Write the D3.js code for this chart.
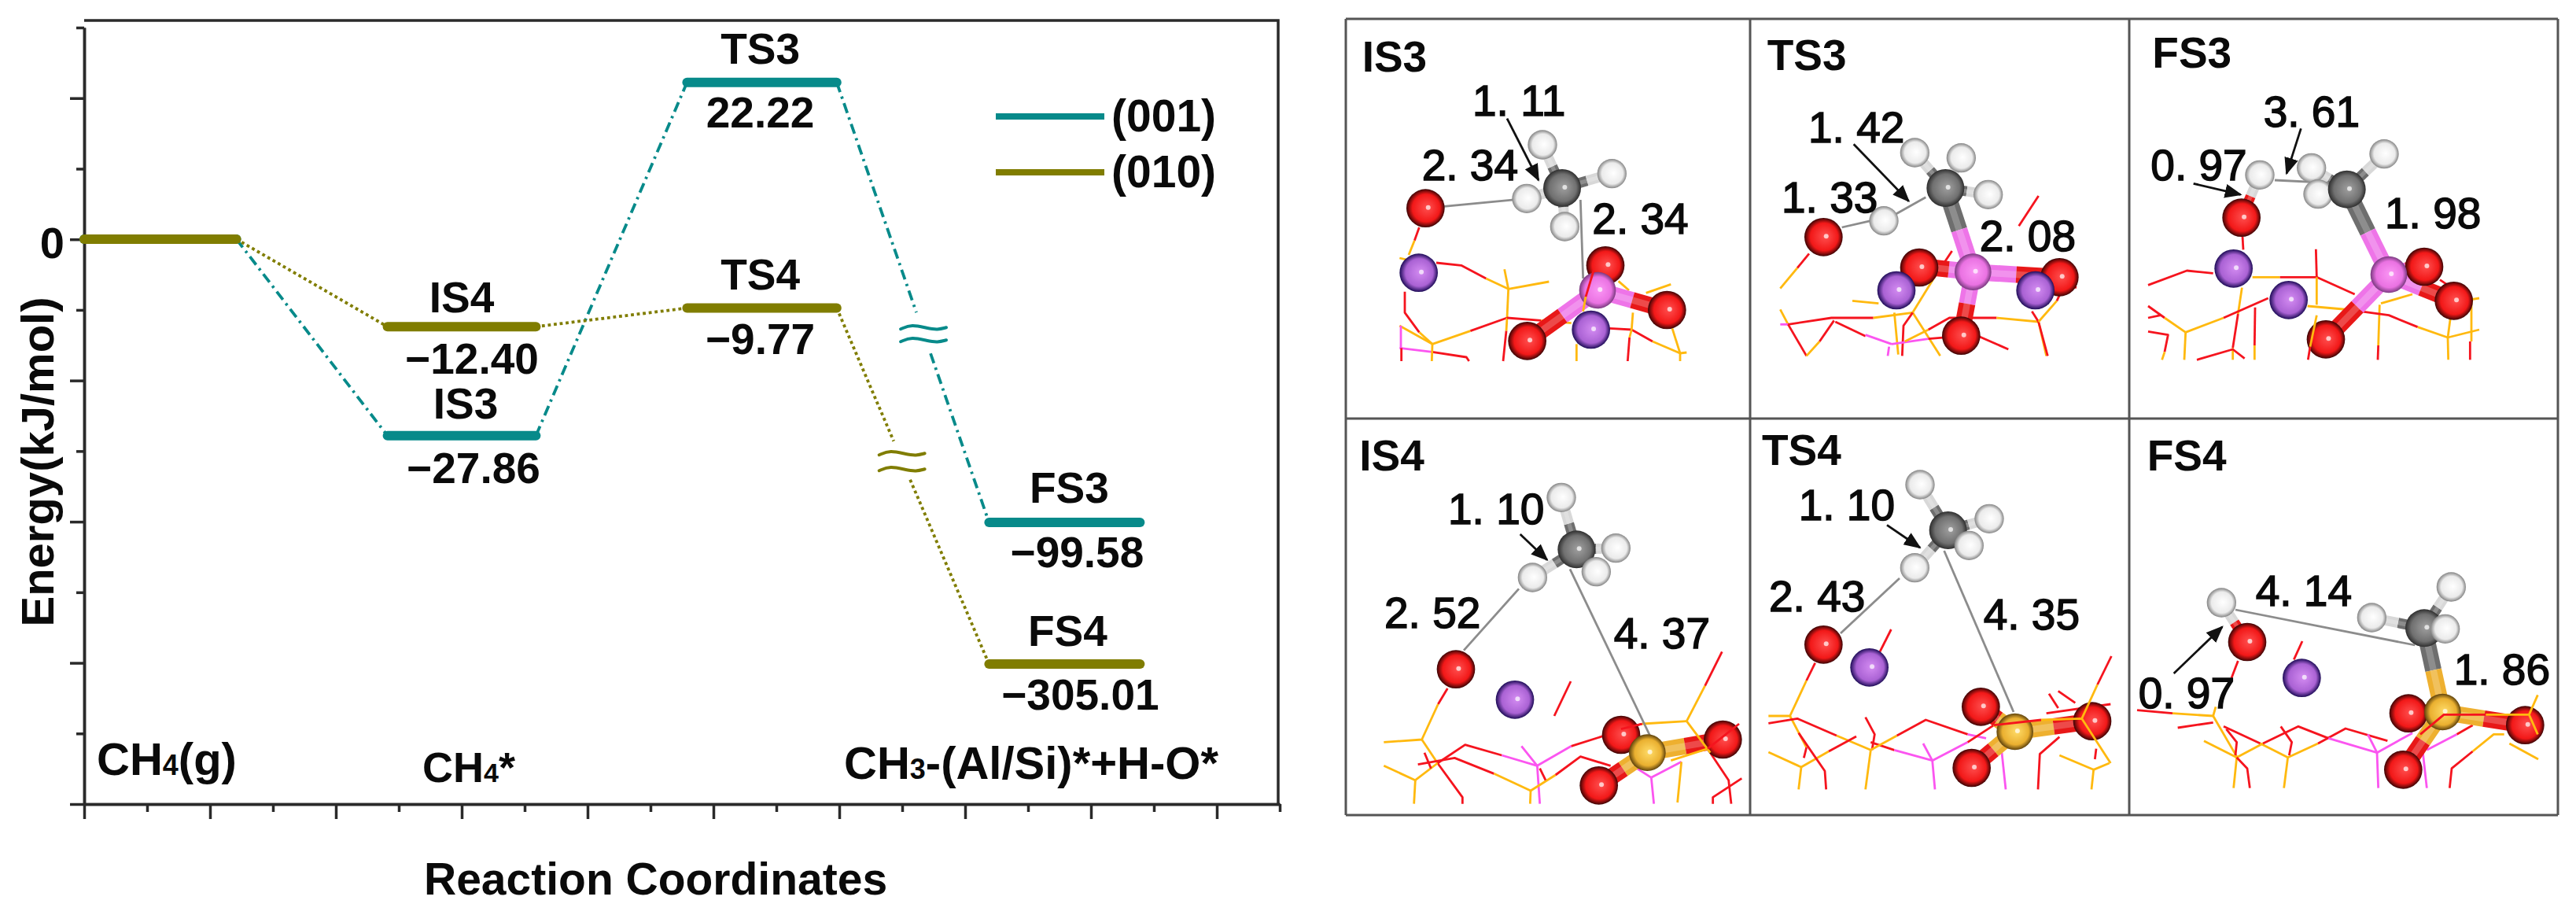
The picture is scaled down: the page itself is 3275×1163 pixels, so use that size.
<!DOCTYPE html>
<html>
<head>
<meta charset="utf-8">
<script src="https://cdn.jsdelivr.net/npm/d3@7/dist/d3.min.js"></script>
<style>
  html, body { margin: 0; padding: 0; background: #fff; }
  svg { display: block; }
  text { font-family: "Liberation Sans", Arial, sans-serif; fill: #0a0a0a; }
  .bold { font-weight: bold; }
</style>
</head>
<body>
<svg id="fig" width="3275" height="1163"></svg>
<script>
// energy profile, kJ/mol. first entry is the CH4(g) reference level
const stateNames001 = ['', 'IS3', 'TS3', 'FS3'];
const stateNames010 = ['', 'IS4', 'TS4', 'FS4'];
const energies001 = [0, -27.86, 22.22, -99.58];
const energies010 = [0, -12.40, -9.77, -305.01];
// start and end of each level on the reaction coordinate axis
const coordStart = [0, 2.41, 4.79, 7.19];
const coordEnd = [1.21, 3.59, 5.98, 8.39];
// part of the last connector left out for the axis break
const breakGap001 = [0.523, 0.616];
const breakGap010 = [0.374, 0.482];
const legendLabels = ['(001)', '(010)'];
const majorEnergyTicks = [-80, -60, -40, -20, 0, 20];
const minorEnergyTicks = [-70, -50, -30, -10, 10, 30];
const majorCoordTicks = [0, 1, 2, 3, 4, 5, 6, 7, 8, 9];
const minorCoordTicks = [0.5, 1.5, 2.5, 3.5, 4.5, 5.5, 6.5, 7.5, 8.5, 9.5];

// structures in crop units (3 per pixel of the panel)
const is3Atoms = [['O',304,722],['K',278,968],['H',750,480],['O',990,940],['C',825,645],['H',1015,590],['H',690,685],['H',835,792],['Al',960,1035],['O',1225,1110],['O',692,1228],['K',935,1185]];
const is3Sticks = [['C',825,645,'H',750,480],['C',825,645,'H',1015,590],['C',825,645,'H',690,685],['C',825,645,'H',835,792],['Al',960,1035,'O',990,940],['Al',960,1035,'O',1225,1110],['Al',960,1035,'O',692,1228]];
const is3Dists = [[304,722,690,685],[895,690,905,990]];
const is3Arrows = [[615,380,735,615]];
const is3Wires = [
  ['O',280,795,262,845],['Si',262,845,240,900],['Si',205,912,240,920],
  ['O',345,930,440,940,535,990],['Si',535,990,620,1030],['Si',605,955,620,1030,775,1002],['Si',620,1030,615,1140],
  ['O',615,1140,475,1190],['Si',475,1190,330,1240],['Si',330,1240,205,1170],['O',225,1040,225,1120,280,1195],['Si',280,1195,330,1240],
  ['Al',210,1170,210,1255],['Al',205,1255,330,1270],['O',330,1270,460,1290,470,1305],['O',212,1255,212,1305],['Si',330,1240,328,1305],
  ['Si',615,1140,612,1190],['O',612,1190,600,1305],['O',615,1140,745,1150],['Si',745,1150,860,1160],['Si',880,1240,880,1305],
  ['O',1005,1180,1090,1185,1170,1230],['Si',1170,1230,1275,1275,1300,1272],['Si',1275,1275,1275,1305],['Si',1275,1275,1245,1180],
  ['Si',1090,1185,1095,1120],['Si',1090,1185,1082,1215],['O',1082,1215,1075,1305],['Si',1145,1045,1240,1012],['Si',1040,1000,1080,1035]];
const is3Over = [['O',945,960,915,1060],['Si',915,1060,905,1115]];
const is3Labels = [['1. 11',483,368],['2. 34',290,615],['2. 34',940,818]];

const ts3Atoms = [['O',280,832],['H',510,770],['H',628,510],['H',805,530],['C',745,645],['H',908,670],['O',645,948],['O',1180,985],['Al',850,965],['K',558,1035],['K',1088,1035],['O',805,1208]];
const ts3Sticks = [['C',745,645,'H',628,510],['C',745,645,'H',805,530],['C',745,645,'H',908,670],['C',745,645,'Al',850,965],['Al',850,965,'O',665,945],['Al',850,965,'O',1180,985],['Al',850,965,'O',805,1208]];
const ts3Dists = [[350,795,460,770],[555,745,670,680]];
const ts3Arrows = [[395,478,605,695]];
const ts3Wires = [
  ['O',225,895,180,950],['Si',180,950,115,1028],['Si',115,1108,145,1165],['O',1025,790,1100,675],['Si',390,1075,490,1085],
  ['Al',115,1165,145,1165],['O',145,1165,310,1140,470,1140],['Si',470,1140,620,1120],['O',770,885,700,990],['Si',700,990,620,1120],
  ['Si',620,1120,725,1285],['Si',550,1120,565,1280],['O',620,1120,585,1170,580,1285],['O',145,1165,215,1285],['Si',215,1285,265,1230],
  ['O',265,1230,320,1150],['O',325,1155,440,1210],['Al',440,1205,540,1240],['Al',540,1240,680,1220],['O',680,1220,860,1205,985,1260],
  ['Si',590,1230,680,1185],['O',680,1185,760,1140,940,1140],['Si',940,1140,1100,1155],['Si',1100,1155,1130,1285],['O',1100,1155,1135,1285],
  ['O',1075,1115,1100,1155],['Si',1100,1155,1170,1075],['O',1170,1075,1200,1010,1245,1025],['Al',530,1250,525,1285]];
const ts3Over = [];
const ts3Labels = [['1. 42',222,470],['1. 33',120,738],['2. 08',875,885]];

const fs3Atoms = [['O',428,758],['H',498,595],['H',695,568],['H',720,668],['H',972,515],['C',830,650],['K',398,952],['K',608,1072],['O',1125,945],['Al',990,975],['O',1238,1075],['O',750,1222]];
const fs3Sticks = [['C',830,650,'H',972,515],['C',830,650,'H',695,568],['C',830,650,'Al',990,975],['H',498,595,'O',428,758],['Al',990,975,'O',1125,945],['Al',990,975,'O',1238,1075],['Al',990,975,'O',750,1222]];
const fs3Dists = [[555,615,760,625]];
const fs3Arrows = [[655,418,600,590],[245,628,425,670]];
const fs3Wires = [
  ['O',72,1015,220,960,320,970],['O',432,830,435,880],['Si',470,985,575,985],['O',575,985,715,985,860,1050],['O',712,878,715,985],
  ['Si',715,985,715,1090],['Si',680,1095,850,1110],['Si',430,1025,415,1125],['O',415,1125,395,1255],['Si',395,1255,395,1300],
  ['O',72,1095,135,1140],['Si',135,1140,215,1195],['Si',215,1195,360,1140],['O',360,1140,530,1065],['Si',215,1195,210,1300],
  ['O',72,1140,120,1130],['O',72,1192,148,1205,135,1270],['Si',135,1270,125,1300],['O',258,1300,395,1260,440,1295],['O',480,1100,478,1245],
  ['Si',478,1245,478,1300],['Si',955,1090,950,1245],['O',950,1245,948,1300],['Si',960,1085,1080,1050],['O',880,1115,990,1130,1100,1175],
  ['Si',1100,1175,1215,1215,1335,1185],['Si',1215,1215,1217,1300],['Si',1305,1070,1305,1230],['O',1300,1230,1300,1300],['Si',1225,1140,1215,1215],
  ['Si',1305,1070,1335,1065],['O',1185,995,1215,1015]];
const fs3Over = [['Si',715,1130,690,1250],['O',690,1250,682,1300]];
const fs3Labels = [['3. 61',512,410],['0. 97',82,615],['1. 98',975,798]];

const is4Atoms = [['O',420,962],['K',645,1078],['H',822,307],['H',1030,500],['C',880,505],['H',955,590],['H',712,612],['O',1050,1212],['O',1438,1230],['Si',1150,1280],['O',965,1405]];
const is4Sticks = [['C',880,505,'H',822,307],['C',880,505,'H',1030,500],['C',880,505,'H',955,590],['C',880,505,'H',712,612],['Si',1150,1280,'O',1050,1212],['Si',1150,1280,'O',1438,1230],['Si',1150,1280,'O',965,1405]];
const is4Dists = [[450,890,660,655],[855,580,1160,1215]];
const is4Arrows = [[665,447,768,545]];
const is4Wires = [
  ['O',858,1008,795,1140],['O',388,1035,352,1095],['Si',352,1095,290,1230,145,1240],['Si',290,1230,350,1320],['O',350,1320,445,1450,445,1475],
  ['Si',145,1330,265,1385],['Si',265,1385,350,1320],['O',350,1320,455,1250,595,1290],['Al',595,1290,730,1330,670,1255],['Al',730,1330,860,1255],
  ['O',860,1255,1130,1170],['Si',1130,1170,1300,1160],['Si',1300,1160,1370,1025],['O',1370,1025,1435,895],['O',1390,1280,1460,1385,1470,1475],
  ['O',1400,1475,1400,1450,1510,1378],['Si',265,1385,260,1475],['O',275,1325,415,1300,565,1360],['Si',565,1360,705,1425],['Si',705,1425,703,1475],
  ['Al',730,1330,740,1475],['Si',705,1425,800,1365],['O',800,1365,895,1295,1010,1330],['O',740,1340,762,1385],['Al',1110,1340,1165,1375],
  ['Al',1165,1375,1175,1475],['Al',1165,1375,1280,1315],['Si',1280,1315,1265,1470],['O',300,1280,325,1340]];
const is4Over = [['Si',1300,1160,1390,1280],['Si',1240,1310,1380,1265],['O',1380,1265,1500,1170],['O',1130,1170,1050,1190]];
const is4Labels = [['1. 10',390,408],['2. 52',147,805],['4. 37',1022,883]];

const ts4Atoms = [['O',280,868],['K',455,955],['H',648,258],['H',912,388],['C',755,432],['H',835,490],['H',628,575],['O',880,1105],['O',1305,1160],['Si',1010,1200],['O',845,1338]];
const ts4Sticks = [['C',755,432,'H',648,258],['C',755,432,'H',912,388],['C',755,432,'H',835,490],['C',755,432,'H',628,575],['Si',1010,1200,'O',880,1105],['Si',1010,1200,'O',1305,1160],['Si',1010,1200,'O',845,1338]];
const ts4Dists = [[345,825,570,615],[740,510,1005,1125]];
const ts4Arrows = [[522,412,648,498]];
const ts4Wires = [
  ['O',495,895,538,810],['O',248,938,215,1005],['Si',215,1005,152,1140,70,1140],['Si',152,1140,215,1260],['O',70,1168,180,1150,330,1215],
  ['Si',330,1215,460,1270],['O',460,1240,550,1270],['Al',550,1270,695,1310],['Si',460,1270,440,1420],['O',440,1145,475,1210,465,1270],
  ['Si',460,1270,560,1215],['O',560,1215,670,1155,830,1210],['Al',830,1210,900,1225],['Al',660,1245,695,1310,705,1420],['Al',695,1310,830,1240],
  ['O',830,1240,930,1175],['Si',70,1278,195,1335],['Si',195,1335,185,1420],['Si',195,1335,300,1275],['O',300,1275,405,1218],
  ['O',185,1205,285,1350,290,1420],['O',205,1300,215,1260],['Si',1180,1290,1310,1345,1370,1320],['Si',1310,1345,1302,1420],
  ['O',1098,1420,1105,1285,1180,1220],['O',1140,1055,1175,1110],['O',1175,1045,1240,1090],['O',1315,1305,1320,1265],['Al',960,1280,975,1420],['O',1130,1130,1375,1095]];
const ts4Over = [['O',930,1175,1110,1155],['Si',1110,1155,1265,1150,1375,1320],['Si',1265,1150,1325,1020],['O',1325,1020,1378,912]];
const ts4Labels = [['1. 10',185,392],['2. 43',72,742],['4. 35',890,810]];

const fs4Atoms = [['H',352,708],['O',450,858],['K',658,995],['H',925,765],['H',1228,648],['C',1125,805],['H',1205,808],['O',1065,1130],['O',1510,1175],['Si',1195,1125],['O',1045,1345]];
const fs4Sticks = [['H',352,708,'O',450,858],['C',1125,805,'H',925,765],['C',1125,805,'H',1228,648],['C',1125,805,'Si',1195,1125],['Si',1195,1125,'O',1065,1130],['Si',1195,1125,'O',1510,1175],['Si',1195,1125,'O',1045,1345]];
const fs4Dists = [[405,735,1090,870]];
const fs4Arrows = [[170,978,355,800]];
const fs4Wires = [
  ['O',660,855,628,925],['O',415,930,390,995],['Si',330,1105,320,1140],['O',30,1118,165,1130],['Si',165,1130,320,1140],['O',185,1185,320,1165],
  ['Si',320,1140,410,1295],['O',360,1180,500,1245],['Si',500,1245,605,1298],['Si',285,1235,410,1298],['Si',410,1298,510,1245],['O',510,1245,645,1180,760,1225],
  ['Si',605,1298,720,1245],['O',720,1245,825,1188,985,1235],['Si',605,1298,590,1415],['Si',410,1298,398,1415],['O',370,1190,410,1240,405,1290],
  ['O',410,1298,450,1340,460,1415],['O',578,1180,620,1240,610,1290],['Al',760,1225,945,1280],['Al',910,1210,945,1280],['Al',945,1280,950,1415],
  ['Al',945,1280,1080,1205],['Al',1120,1280,1135,1415],['Al',1135,1270,1250,1210],['O',1250,1210,1310,1175],['O',1222,1415,1230,1340,1310,1275],
  ['Si',1310,1275,1390,1210,1430,1210],['Si',1450,1245,1560,1305]];
const fs4Over = [['O',1110,1210,1200,1135,1360,1135],['Si',1360,1135,1525,1135,1558,1210],['Si',1525,1135,1558,1060]];
const fs4Labels = [['4. 14',482,720],['0. 97',35,1110],['1. 86',1238,1020]];

const panelNames = ['IS3', 'TS3', 'FS3', 'IS4', 'TS4', 'FS4'];
const panelAtoms = [is3Atoms, ts3Atoms, fs3Atoms, is4Atoms, ts4Atoms, fs4Atoms];
const panelSticks = [is3Sticks, ts3Sticks, fs3Sticks, is4Sticks, ts4Sticks, fs4Sticks];
const panelDists = [is3Dists, ts3Dists, fs3Dists, is4Dists, ts4Dists, fs4Dists];
const panelArrows = [is3Arrows, ts3Arrows, fs3Arrows, is4Arrows, ts4Arrows, fs4Arrows];
const panelWires = [is3Wires, ts3Wires, fs3Wires, is4Wires, ts4Wires, fs4Wires];
const panelOver = [is3Over, ts3Over, fs3Over, is4Over, ts4Over, fs4Over];
const panelLabels = [is3Labels, ts3Labels, fs3Labels, is4Labels, ts4Labels, fs4Labels];
const panelTitlePos = [[62,200],[65,195],[88,185],[52,205],[45,182],[68,205]];

const teal = '#078a8a', olive = '#807d00', axisColor = '#2a2a2a';

const svg = d3.select('#fig');
const defs = svg.append('defs');

// left chart scales. axis runs -80..30, energies below -30 go through the break
const xCoord = d3.scaleLinear().domain([0, 9.5]).range([107, 1627]);
const yAxisScale = d3.scaleLinear().domain([-80, 30]).range([1022, 35]);
const yEnergy = d3.scaleLinear()
  .domain([30, -30, -99.58, -305.01, -508])
  .range([35, 573, 664, 844, 1022]);

const chart = svg.append('g');

function styleAxis(g) {
  g.selectAll('path, line').attr('stroke', axisColor).attr('stroke-width', 3.5);
}
chart.append('g').attr('transform', 'translate(107,0)')
  .call(d3.axisLeft(yAxisScale).tickValues(majorEnergyTicks).tickSize(18).tickSizeOuter(0)
    .tickFormat(d => d === 0 ? '0' : '').tickPadding(7))
  .call(styleAxis)
  .call(g => g.selectAll('text').attr('class', 'bold').attr('font-size', 56).attr('font-family', null).attr('dy', '0.42em'));
chart.append('g').attr('transform', 'translate(107,0)')
  .call(d3.axisLeft(yAxisScale).tickValues(minorEnergyTicks).tickSize(10).tickSizeOuter(0).tickFormat(''))
  .call(styleAxis);
chart.append('g').attr('transform', 'translate(0,1022)')
  .call(d3.axisBottom(xCoord).tickValues(majorCoordTicks).tickSize(19).tickSizeOuter(0).tickFormat(''))
  .call(styleAxis);
chart.append('g').attr('transform', 'translate(0,1022)')
  .call(d3.axisBottom(xCoord).tickValues(minorCoordTicks).tickSize(10).tickSizeOuter(0).tickFormat(''))
  .call(styleAxis);
chart.append('path')
  .attr('d', d3.line()([[xCoord(0), 26], [1625, 26], [1625, 1022]]))
  .attr('fill', 'none').attr('stroke', axisColor).attr('stroke-width', 3.5);

const lineGen = d3.line();
const squiggleShape = [[-29, 3], [-15, -3], [5, 2], [18, 4], [29, 1]];
const squiggleGen = d3.line().curve(d3.curveBasis);

function drawProfile(energies, color, dash, gap, squiggleOffset) {
  const g = chart.append('g');
  energies.forEach((e, i) => {
    if (i === 0) return;
    const a = [xCoord(coordEnd[i - 1]), yEnergy(energies[i - 1])];
    const b = [xCoord(coordStart[i]), yEnergy(e)];
    const at = t => [a[0] + (b[0] - a[0]) * t, a[1] + (b[1] - a[1]) * t];
    const pieces = i === energies.length - 1 ? [[a, at(gap[0])], [at(gap[1]), b]] : [[a, b]];
    pieces.forEach(p => g.append('path').attr('d', lineGen(p)).attr('fill', 'none')
      .attr('stroke', color).attr('stroke-width', 3.8).attr('stroke-dasharray', dash));
    if (i === energies.length - 1) {
      const c = at((gap[0] + gap[1]) / 2);
      [-squiggleOffset, squiggleOffset].forEach(dy => {
        g.append('path')
          .attr('d', squiggleGen(squiggleShape.map(s => [c[0] + s[0], c[1] + s[1] + dy])))
          .attr('fill', 'none').attr('stroke', color).attr('stroke-width', 4).attr('stroke-linecap', 'round');
      });
    }
  });
  energies.forEach((e, i) => {
    g.append('path')
      .attr('d', lineGen([[xCoord(coordStart[i]), yEnergy(e)], [xCoord(coordEnd[i]), yEnergy(e)]]))
      .attr('stroke', color).attr('stroke-width', 12).attr('stroke-linecap', 'round');
  });
}
drawProfile(energies001, teal, '13,6,3,6', breakGap001, 8);
drawProfile(energies010, olive, '3.8,3.8', breakGap010, 10);

// labels above and below the levels
const fmt = d3.format('.2f');
function levelText(names, energies, nameDx, nameDy, valueDx, valueDy) {
  names.forEach((n, i) => {
    if (!n) return;
    const cx = (xCoord(coordStart[i]) + xCoord(coordEnd[i])) / 2, y = yEnergy(energies[i]);
    chart.append('text').attr('class', 'bold').attr('font-size', 55).attr('text-anchor', 'middle')
      .attr('x', cx + nameDx[i]).attr('y', y + nameDy[i]).text(n);
    chart.append('text').attr('class', 'bold').attr('font-size', 55).attr('text-anchor', 'middle')
      .attr('x', cx + valueDx[i]).attr('y', y + valueDy[i]).text(fmt(energies[i]));
  });
}
levelText(stateNames001, energies001, [0, 5, -2, 6], [0, -22, -24, -25], [0, 15, -2, 16], [0, 60, 57, 57]);
levelText(stateNames010, energies010, [0, 0, -2, 4], [0, -18, -24, -23], [0, 13, -2, 20], [0, 60, 58, 58]);

// legend
const legendColors = [teal, olive];
legendLabels.forEach((l, i) => {
  const y = 148 + i * 71;
  chart.append('line').attr('x1', 1266).attr('x2', 1404).attr('y1', y).attr('y2', y)
    .attr('stroke', legendColors[i]).attr('stroke-width', 8);
  chart.append('text').attr('class', 'bold').attr('font-size', 57).attr('x', 1413).attr('y', y + 19).text(l);
});

// axis titles and stage names
chart.append('text').attr('class', 'bold').attr('font-size', 58)
  .attr('transform', 'translate(68,587) rotate(-90)').attr('text-anchor', 'middle').text('Energy(kJ/mol)');
chart.append('text').attr('class', 'bold').attr('font-size', 57)
  .attr('x', 539).attr('y', 1137).text('Reaction Coordinates');

function stageText(x, y, parts) {
  const t = chart.append('text').attr('class', 'bold').attr('x', x).attr('y', y);
  parts.forEach(p => t.append('tspan').attr('font-size', p[1]).text(p[0]));
}
stageText(123, 985, [['CH', 58], ['4', 36], ['(g)', 58]]);
stageText(537, 994, [['CH', 54], ['4', 34], ['*', 54]]);
stageText(1073, 990, [['CH', 58], ['3', 36], ['-(Al/Si)*+H-O*', 58]]);

// right side, gradients for the ball atoms
const atomFill = {
  O: ['#ff5050', '#f21818', '#3c0404'],
  K: ['#d48cf2', '#aa62d4', '#1e0c58'],
  H: ['#ffffff', '#ebebeb', '#858585'],
  C: ['#a0a0a0', '#707070', '#2e2e2e'],
  Al: ['#fb96f5', '#ea72e2', '#7a3a80'],
  Si: ['#ffdc68', '#eab030', '#5e420c']
};
const atomRadius = { O: 73, K: 73, H: 56, C: 72, Al: 70, Si: 70 };
const stickColor = { O: '#e81818', K: '#a85fd0', H: '#d8d8d8', C: '#6e6e6e', Al: '#ee74e8', Si: '#eeb030' };
const wireColor = { O: '#f5141e', Si: '#ffb90f', Al: '#fb55f0' };

Object.keys(atomFill).forEach(el => {
  const grad = defs.append('radialGradient').attr('id', 'atom' + el)
    .attr('cx', '50%').attr('cy', '50%').attr('r', '50%').attr('fx', '56%').attr('fy', '48%');
  grad.append('stop').attr('offset', '0%').attr('stop-color', atomFill[el][0]);
  grad.append('stop').attr('offset', '72%').attr('stop-color', atomFill[el][1]);
  grad.append('stop').attr('offset', '100%').attr('stop-color', atomFill[el][2]);
});
defs.append('marker').attr('id', 'head').attr('markerUnits', 'userSpaceOnUse')
  .attr('markerWidth', 22).attr('markerHeight', 18).attr('refX', 20).attr('refY', 9).attr('orient', 'auto')
  .append('path').attr('d', 'M0,0L22,9L0,18Z').attr('fill', '#111');

const frameLeft = [1711, 2225, 2707, 1711, 2225, 2707];
const frameTop = [24, 24, 24, 530, 530, 530];

const panelsG = svg.append('g');
panelNames.forEach((name, k) => {
  // crop units to page pixels
  const px = d3.scaleLinear().domain([0, 3]).range([frameLeft[k], frameLeft[k] + 1]);
  const py = d3.scaleLinear().domain([0, 3]).range([frameTop[k], frameTop[k] + 1]);
  const g = panelsG.append('g');
  const wire = (list) => list.forEach(w => {
    const pts = d3.pairs(w.slice(1)).filter((_, i) => i % 2 === 0).map(p => [px(p[0]), py(p[1])]);
    g.append('path').attr('d', lineGen(pts)).attr('fill', 'none')
      .attr('stroke', wireColor[w[0]]).attr('stroke-width', 2.8).attr('stroke-linejoin', 'round');
  });
  wire(panelWires[k]);

  panelSticks[k].forEach(s => {
    const a = [px(s[1]), py(s[2])], b = [px(s[4]), py(s[5])];
    const m = [(a[0] + b[0]) / 2, (a[1] + b[1]) / 2];
    const w = s[0] === 'H' || s[3] === 'H' ? 13 : 21;
    [[a, m, s[0]], [m, b, s[3]]].forEach(seg => {
      g.append('path').attr('d', lineGen([seg[0], seg[1]])).attr('stroke', stickColor[seg[2]]).attr('stroke-width', w);
      g.append('path').attr('d', lineGen([seg[0], seg[1]])).attr('stroke', '#fff').attr('stroke-opacity', 0.22).attr('stroke-width', w * 0.4);
    });
  });

  panelDists[k].forEach(d => {
    g.append('line').attr('x1', px(d[0])).attr('y1', py(d[1])).attr('x2', px(d[2])).attr('y2', py(d[3]))
      .attr('stroke', '#8c8c8c').attr('stroke-width', 2.8);
  });

  panelAtoms[k].forEach(a => {
    const r = atomRadius[a[0]] / 3;
    g.append('circle').attr('cx', px(a[1])).attr('cy', py(a[2])).attr('r', r)
      .attr('fill', `url(#atom${a[0]})`);
    g.append('circle').attr('cx', px(a[1]) + r * 0.14).attr('cy', py(a[2]) - 1).attr('r', 3)
      .attr('fill', '#fff').attr('opacity', a[0] === 'H' ? 0 : 0.7);
  });
  wire(panelOver[k]);

  panelArrows[k].forEach(d => {
    g.append('line').attr('x1', px(d[0])).attr('y1', py(d[1])).attr('x2', px(d[2])).attr('y2', py(d[3]))
      .attr('stroke', '#111').attr('stroke-width', 2.8).attr('marker-end', 'url(#head)');
  });

  g.append('text').attr('class', 'bold').attr('font-size', 55)
    .attr('x', px(panelTitlePos[k][0])).attr('y', py(panelTitlePos[k][1])).text(name);
  panelLabels[k].forEach(l => {
    g.append('text').attr('font-size', 55).attr('stroke', '#0a0a0a').attr('stroke-width', 1.5)
      .attr('x', px(l[1])).attr('y', py(l[2])).text(l[0]);
  });
});

// frame of the six panels
const frameX = [1711, 2225, 2707, 3252];
const frameY = [24, 532, 1036];
frameX.forEach(x => panelsG.append('line').attr('x1', x).attr('x2', x).attr('y1', 24).attr('y2', 1036)
  .attr('stroke', '#555').attr('stroke-width', 3));
frameY.forEach(y => panelsG.append('line').attr('x1', 1711).attr('x2', 3252).attr('y1', y).attr('y2', y)
  .attr('stroke', '#555').attr('stroke-width', 3));
</script>
</body>
</html>
